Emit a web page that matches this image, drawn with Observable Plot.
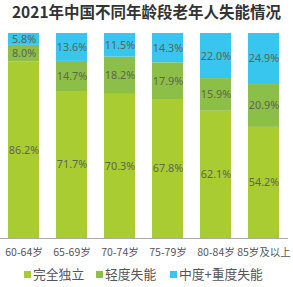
<!DOCTYPE html>
<html><head><meta charset="utf-8">
<script src="https://cdn.jsdelivr.net/npm/d3@7"></script>
<script src="https://cdn.jsdelivr.net/npm/@observablehq/plot@0.6"></script>
<style>
body{margin:0;background:#fff;font-family:"Noto Sans CJK SC","Noto Sans",sans-serif;width:293px;height:287px;overflow:hidden}
#title{height:24px;line-height:22px;text-align:center;font-size:15.5px;font-weight:bold;color:#333;white-space:nowrap}
#legend{position:absolute;top:264px;left:0;width:293px;height:20px;font-size:12.8px;color:#555}
.item{position:absolute;top:0;line-height:20px;white-space:nowrap}
.sw{display:inline-block;width:7px;height:7px;margin-right:2px;vertical-align:1px}
</style></head><body>
<div id="title">2021年中国不同年龄段老年人失能情况</div>
<div id="chart"></div>
<div id="legend"></div>
<script>
const ageGroups = ["60-64岁","65-69岁","70-74岁","75-79岁","80-84岁","85岁及以上"];
const seriesNames = ["完全独立","轻度失能","中度+重度失能"];
const independent = [86.2,71.7,70.3,67.8,62.1,54.2];
const mild = [8.0,14.7,18.2,17.9,15.9,20.9];
const severe = [5.8,13.6,11.5,14.3,22.0,24.9];
const colors = ["#a9cc32","#8cbf48","#38c5ee"];
const seriesValues = [independent, mild, severe];

const data = [];
seriesNames.forEach((s, si) => ageGroups.forEach((a, ai) => data.push({age: a, series: s, value: seriesValues[si][ai]})));

const chart = Plot.plot({
  width: 293, height: 239,
  marginTop: 9, marginBottom: 25, marginLeft: 0, marginRight: 5,
  style: {fontFamily: '"Noto Sans CJK SC","Noto Sans",sans-serif', background: "#fff"},
  x: {domain: ageGroups, paddingInner: 0.35, paddingOuter: 0.175, label: null},
  y: {domain: [0, 100], axis: null},
  color: {domain: seriesNames, range: colors},
  marks: [
    Plot.barY(data, Plot.stackY({x: "age", y: "value", z: "series", fill: "series", order: seriesNames})),
    Plot.text(data, Plot.stackY({x: "age", y: "value", z: "series", order: seriesNames,
      text: d => d.value.toFixed(1) + "%", fill: "#5e6650", fontSize: 10.8,
      fontFamily: '"Noto Sans",sans-serif', lineHeight: 1})),
    Plot.ruleY([0], {stroke: "#aaa", strokeWidth: 1}),
    Plot.axisX({tickSize: 0, tickPadding: 10, fontSize: 10.5, color: "#555", label: null})
  ]
});
document.getElementById("chart").appendChild(chart);

const legendPos = [[24, 0], [96, 1], [170, 2]];
const leg = document.getElementById("legend");
legendPos.forEach(([x, i]) => {
  const d = document.createElement("div");
  d.className = "item";
  d.style.left = x + "px";
  d.innerHTML = `<span class="sw" style="background:${colors[i]}"></span>${seriesNames[i]}`;
  leg.appendChild(d);
});
</script>
</body></html>
